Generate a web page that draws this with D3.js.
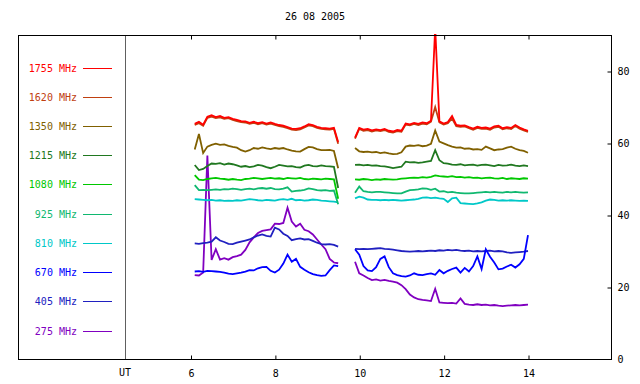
<!DOCTYPE html>
<html><head><meta charset="utf-8">
<script src="https://cdn.jsdelivr.net/npm/d3@7"></script>
<style>
body{margin:0;background:#fff;}
text{font-family:"DejaVu Sans Mono",monospace;font-size:10px;}
</style></head>
<body>
<svg id="chart" width="640" height="384"></svg>
<script>
const title = "26 08 2005";
const xTicks = [6, 8, 10, 12, 14];
const yTicks = [0, 20, 40, 60, 80];
const legendLabels = ["1755 MHz","1620 MHz","1350 MHz","1215 MHz","1080 MHz","925 MHz","810 MHz","670 MHz","405 MHz","275 MHz"];
const seriesColors = ["#ff0000","#c04010","#806000","#207820","#00c800","#10b870","#00c8c8","#0000ff","#2020c0","#8000c0"];

const hoursSeg1 = [6.1,6.2,6.3,6.4,6.5,6.6,6.7,6.8,6.9,7.0,7.1,7.2,7.3,7.4,7.5,7.6,7.7,7.8,7.9,8.0,8.1,8.2,8.3,8.4,8.5,8.6,8.7,8.8,8.9,9.0,9.1,9.2,9.3,9.4,9.5];
const hoursSeg2 = [9.9,10.0,10.1,10.2,10.3,10.4,10.5,10.6,10.7,10.8,10.9,11.0,11.1,11.2,11.3,11.4,11.5,11.6,11.7,11.8,11.9,12.0,12.1,12.2,12.3,12.4,12.5,12.6,12.7,12.8,12.9,13.0,13.1,13.2,13.3,13.4,13.5,13.6,13.7,13.8,13.9,14.0];

const f1755a = [65.3,65.9,65.1,67.3,67.7,67.2,67.5,67.0,67.2,66.7,66.4,66.1,66.0,65.6,65.9,65.5,65.8,65.4,65.7,65.3,65.0,64.8,64.4,64.0,63.9,64.1,64.6,65.2,65.0,64.5,64.2,64.1,64.0,64.2,60.3];
const f1755b = [61.5,64.2,63.7,63.9,63.5,63.8,63.6,63.9,63.4,63.2,63.6,63.4,65.4,65.2,65.6,65.3,65.7,65.5,66.2,92.0,66.0,65.4,65.8,67.5,65.0,64.8,64.9,64.4,64.0,64.5,64.2,64.3,64.0,64.6,64.8,64.1,64.4,64.2,65.0,64.3,63.8,63.4];
const f1620a = [65.0,65.5,64.8,67.0,67.3,66.9,67.1,66.7,66.9,66.4,66.1,65.8,65.7,65.3,65.6,65.2,65.5,65.1,65.4,65.0,64.7,64.5,64.1,63.7,63.6,63.8,64.3,64.9,64.7,64.2,63.9,63.8,63.7,63.9,59.8];
const f1620b = [61.2,63.9,63.4,63.6,63.2,63.5,63.3,63.6,63.1,62.9,63.3,63.1,65.1,64.9,65.3,65.0,65.4,65.2,65.9,70.0,65.7,65.1,65.5,66.8,64.7,64.5,64.6,64.1,63.7,64.2,63.9,64.0,63.7,64.3,64.5,63.8,64.1,63.9,64.7,64.0,63.5,63.1];
const f1350a = [58.2,62.5,57.2,59.0,59.5,59.8,59.5,59.6,59.2,58.9,58.7,58.0,57.6,58.0,58.6,58.4,58.8,58.5,58.3,58.6,58.4,58.6,58.2,57.9,57.7,57.6,58.3,58.9,58.8,58.3,58.0,58.0,58.1,57.8,53.0];
const f1350b = [58.6,57.7,57.5,57.6,57.4,57.5,57.2,57.4,57.1,56.9,57.0,57.4,59.0,59.3,59.2,59.4,59.1,59.3,59.8,63.5,60.4,59.9,59.4,59.0,58.7,58.8,58.4,58.5,58.2,58.3,58.1,59.0,58.5,58.0,58.2,58.3,58.7,59.0,58.4,58.0,57.8,57.3];
const f1215a = [53.9,52.5,52.8,53.6,54.3,54.2,54.4,54.0,54.3,54.1,53.8,53.4,53.6,53.3,53.5,53.9,53.7,53.3,53.0,53.4,53.9,53.7,53.5,53.6,53.3,53.2,53.7,53.9,53.6,53.5,53.8,53.6,53.5,53.4,47.5];
const f1215b = [53.9,54.0,53.8,53.9,53.7,53.8,53.6,53.5,53.3,53.0,53.2,53.4,54.8,54.6,54.7,54.5,54.6,54.8,55.0,58.0,55.2,54.4,54.3,54.0,53.9,54.1,53.8,53.9,54.0,53.7,53.9,54.0,53.8,53.6,53.9,53.7,53.8,54.0,53.7,53.6,53.8,53.6];
const f1080a = [51.1,49.8,49.7,50.0,50.2,50.3,50.1,50.0,49.8,50.0,49.8,49.7,50.0,50.1,50.3,50.2,50.0,50.2,50.3,50.1,50.2,50.0,50.3,50.2,50.1,50.3,50.0,49.9,50.1,50.0,49.9,50.1,50.0,49.9,44.5];
const f1080b = [49.9,49.8,50.0,49.9,49.7,49.9,49.8,50.0,49.9,49.8,49.9,50.1,50.2,50.3,50.4,50.3,50.5,50.4,50.6,51.0,50.8,50.7,50.6,50.8,50.5,50.6,50.4,50.5,50.3,50.4,50.2,50.3,50.4,50.2,50.1,50.3,50.0,50.2,50.1,50.0,50.2,50.1];
const f925a = [48.3,46.9,47.0,46.9,47.0,47.1,47.0,47.2,47.1,47.3,47.2,47.0,47.2,47.3,47.1,47.4,47.5,47.3,47.5,47.2,47.1,47.3,47.7,46.5,46.7,46.8,47.0,47.4,47.2,46.9,46.8,46.9,46.7,46.8,43.0];
const f925b = [46.2,47.9,46.6,46.4,46.3,46.4,46.4,46.3,46.2,46.1,46.0,46.0,46.5,46.9,47.0,47.1,47.4,47.3,47.0,47.3,46.5,46.6,46.3,46.4,46.2,46.1,46.0,46.0,46.1,46.2,46.3,46.4,46.3,46.4,46.3,46.2,46.4,46.3,46.4,46.3,46.2,46.3];
const f810a = [44.4,44.3,44.2,44.1,44.2,44.0,44.1,43.9,44.0,43.9,44.1,44.0,44.2,44.4,44.3,44.1,44.0,44.2,44.1,44.0,44.3,44.4,44.2,44.5,44.1,44.2,44.0,44.1,44.3,44.2,44.0,43.9,43.8,43.7,43.5];
const f810b = [44.6,45.1,44.8,44.3,44.2,44.2,44.1,44.2,44.1,44.2,44.1,44.0,44.1,44.2,44.3,44.5,44.8,44.9,44.7,44.8,44.6,44.5,43.6,44.6,44.8,43.3,43.2,43.1,43.0,43.2,43.5,44.0,44.3,44.2,44.0,44.1,44.0,44.1,44.0,43.9,44.0,43.9];
const f670a = [24.3,24.4,24.2,24.5,24.4,24.3,24.2,24.0,23.7,23.6,23.8,24.0,24.3,24.7,24.6,25.2,25.5,25.6,24.5,24.0,24.8,26.5,29.0,27.0,27.8,25.6,24.8,24.1,23.6,23.3,23.1,23.2,24.7,26.0,25.8];
const f670b = [30.5,29.0,25.8,24.6,24.4,25.5,27.8,28.5,25.5,23.8,23.3,23.0,22.9,23.2,23.8,23.4,23.3,23.6,23.8,23.4,24.7,23.8,24.5,25.0,25.4,24.0,25.3,24.3,25.8,28.5,25.0,30.5,28.4,26.8,24.9,25.1,25.7,26.2,25.4,26.3,27.8,34.4];
const f405a = [32.1,32.0,32.2,32.3,32.6,33.8,32.9,32.5,32.0,31.9,32.3,32.6,32.9,33.2,33.8,34.3,34.6,34.2,34.0,36.5,36.0,34.8,34.2,33.0,33.3,33.5,33.2,33.3,32.8,32.3,31.9,31.8,31.9,31.7,31.2];
const f405b = [30.6,30.5,30.6,30.5,30.6,30.7,30.8,30.6,30.5,30.4,30.2,30.0,29.9,29.8,29.9,30.0,29.9,30.0,30.1,30.0,30.2,30.1,30.3,30.2,30.3,30.1,30.0,30.1,29.9,30.0,29.9,30.0,30.1,29.9,30.0,29.9,29.6,29.5,29.6,29.7,29.8,30.0];
const f275a = [23.3,23.2,24.0,56.5,27.5,30.5,27.6,28.0,27.6,28.3,28.6,29.0,30.3,32.4,33.8,35.0,35.6,35.8,36.0,37.6,37.5,37.8,42.0,38.2,36.8,37.6,35.9,35.5,34.6,33.2,31.8,30.5,27.8,26.8,26.6];
const f275b = [27.0,23.8,23.2,22.5,21.9,22.1,21.8,22.0,21.7,21.5,21.2,20.5,19.4,17.9,17.1,16.6,16.4,16.3,16.1,19.5,15.7,15.6,15.5,15.6,15.4,16.8,15.3,15.1,15.0,15.2,15.0,15.1,14.9,15.0,14.8,14.7,14.8,14.9,15.0,14.9,15.0,15.1];

const seg1Values = [f1755a,f1620a,f1350a,f1215a,f1080a,f925a,f810a,f670a,f405a,f275a];
const seg2Values = [f1755b,f1620b,f1350b,f1215b,f1080b,f925b,f810b,f670b,f405b,f275b];

const svg = d3.select("#chart");
const L = 18, R = 611, T = 35, B = 359;
const x = d3.scaleLinear().domain([6, 14]).range([190.5, 528]);
const y = d3.scaleLinear().domain([0, 90]).range([B, T]);

svg.append("text").attr("x", 315).attr("y", 20).attr("text-anchor", "middle").attr("fill", "#000").text(title);

svg.append("defs").append("clipPath").attr("id", "plotclip")
  .append("rect").attr("x", L).attr("y", T - 1).attr("width", R - L).attr("height", B - T + 1);

// UT separator
svg.append("line").attr("x1", 125.5).attr("x2", 125.5).attr("y1", T).attr("y2", B)
  .attr("stroke", "#606060").attr("stroke-width", 1);
svg.append("text").attr("x", 125).attr("y", 376).attr("text-anchor", "middle").text("UT");

// Data lines (drawn lowest frequency first)
const line = d3.line().x(d => x(d[0])).y(d => y(d[1]));
const gData = svg.append("g").attr("clip-path", "url(#plotclip)");
for (let i = seriesColors.length - 1; i >= 0; i--) {
  [[hoursSeg1, seg1Values[i]], [hoursSeg2, seg2Values[i]]].forEach(([hrs, vals]) => {
    gData.append("path")
      .datum(hrs.map((h, k) => [h, vals[k]]))
      .attr("fill", "none").attr("stroke", seriesColors[i])
      .attr("stroke-width", 1.8).attr("stroke-linejoin", "miter")
      .attr("d", line);
  });
}

// Frame
svg.append("rect").attr("x", L + 0.5).attr("y", T + 0.5).attr("width", R - L).attr("height", B - T)
  .attr("fill", "none").attr("stroke", "#000").attr("stroke-width", 1);

// Axes
const bottomAxis = d3.axisBottom(x).tickValues(xTicks).tickSize(-4).tickPadding(10).tickFormat(d3.format("d"));
const gb = svg.append("g").attr("transform", `translate(0.5,${B + 0.5})`).call(bottomAxis);
gb.select(".domain").remove();
const topAxis = d3.axisTop(x).tickValues(xTicks).tickSize(-4).tickFormat("");
const gt = svg.append("g").attr("transform", `translate(0.5,${T + 0.5})`).call(topAxis);
gt.select(".domain").remove();
const rightAxis = d3.axisRight(y).tickValues(yTicks).tickSize(-4).tickPadding(6).tickFormat(d3.format("d"));
const gr = svg.append("g").attr("transform", `translate(${R + 0.5},0.5)`).call(rightAxis);
gr.select(".domain").remove();
gr.selectAll(".tick").filter(d => d === 0).select("line").remove();
svg.selectAll(".tick text").attr("font-family", "DejaVu Sans Mono, monospace").attr("font-size", 10).attr("fill", "#000");
svg.selectAll(".tick line").attr("stroke", "#000");

// Legend
const legendY = d3.scaleLinear().domain([0, 9]).range([67.5, 330.5]);
legendLabels.forEach((lab, i) => {
  const yy = Math.round(legendY(i)) + 0.5;
  svg.append("text").attr("x", 77).attr("y", yy).attr("dy", "0.35em").attr("text-anchor", "end")
    .attr("fill", seriesColors[i]).text(lab);
  svg.append("line").attr("x1", 83).attr("x2", 112).attr("y1", yy).attr("y2", yy)
    .attr("stroke", seriesColors[i]).attr("stroke-width", 1);
});
</script>
</body></html>
